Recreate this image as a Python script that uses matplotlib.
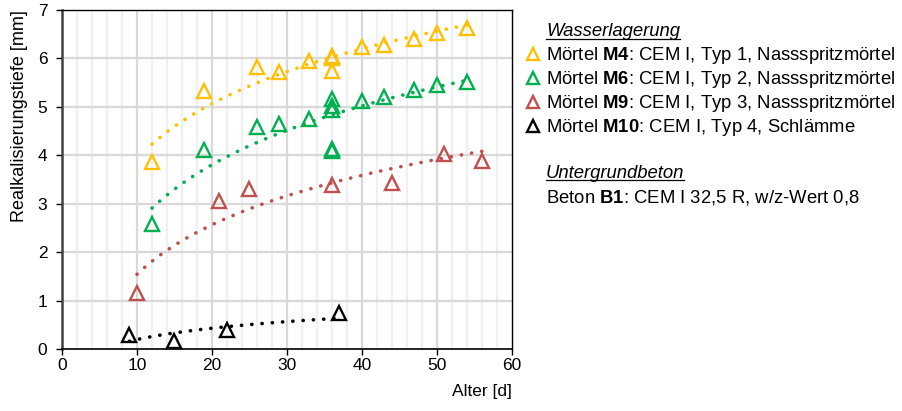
import numpy as np
import matplotlib
matplotlib.use("Agg")
import matplotlib.pyplot as plt
from matplotlib.lines import Line2D

plt.rcParams["font.family"] = ["Liberation Sans", "DejaVu Sans"]
plt.rcParams["mathtext.fontset"] = "custom"
plt.rcParams["mathtext.rm"] = "Liberation Sans"
plt.rcParams["mathtext.bf"] = "Liberation Sans:bold"

# Realkalisierungstiefe [mm] über Alter [d]
m4_age = [12, 19, 26, 29, 33, 36, 36, 36, 40, 43, 47, 50, 54]
m4_depth = [3.87, 5.32, 5.83, 5.72, 5.95, 6.06, 6.00, 5.75, 6.24, 6.28, 6.40, 6.53, 6.63]

m6_age = [12, 19, 26, 29, 33, 36, 36, 36, 36, 36, 40, 43, 47, 50, 54]
m6_depth = [2.58, 4.10, 4.59, 4.64, 4.75, 5.16, 5.02, 4.94, 4.13, 4.08, 5.12, 5.21, 5.35, 5.45, 5.52]

m9_age = [10, 21, 25, 36, 44, 51, 56]
m9_depth = [1.16, 3.06, 3.30, 3.39, 3.43, 4.03, 3.89]

m10_age = [9, 15, 22, 37]
m10_depth = [0.29, 0.17, 0.39, 0.74]

series = [
    ("M4", ": CEM I, Typ 1, Nassspritzmörtel", m4_age, m4_depth, "#FFC000"),
    ("M6", ": CEM I, Typ 2, Nassspritzmörtel", m6_age, m6_depth, "#00B050"),
    ("M9", ": CEM I, Typ 3, Nassspritzmörtel", m9_age, m9_depth, "#C0504D"),
    ("M10", ": CEM I, Typ 4, Schlämme", m10_age, m10_depth, "#000000"),
]

W, H = 903, 411
fig = plt.figure(figsize=(W / 100, H / 100), dpi=100)
ax = fig.add_axes([62 / W, (H - 349) / H, 450 / W, 339 / H])

# grid
for x in range(2, 60, 2):
    major = x % 10 == 0
    ax.axvline(x, color="#D9D9D9" if major else "#F0F0F0", lw=1.6, zorder=0)
for y in range(1, 7):
    ax.axhline(y, color="#D9D9D9", lw=1.6, zorder=0)

for name, text, age, depth, color in series:
    age = np.asarray(age, float)
    depth = np.asarray(depth, float)
    # logarithmic trend line
    a, b = np.polyfit(np.log(age), depth, 1)
    xs = np.linspace(age.min(), age.max(), 200)
    ax.plot(xs, a * np.log(xs) + b, color=color, lw=2.6,
            linestyle=(0, (0.05, 2.8)), dash_capstyle="round", zorder=2)
    ax.plot(age, depth, linestyle="none", marker="^", ms=10, mfc="none",
            mec=color, mew=1.7, zorder=3)

ax.set_xlim(0, 60)
ax.set_ylim(0, 7)
ax.set_xticks(range(0, 61, 10))
ax.set_yticks(range(0, 8))
ax.tick_params(axis="both", labelsize=12.5, direction="out", length=4.5,
               width=1, color="black")
ax.tick_params(axis="x", pad=2)
ax.tick_params(axis="y", pad=6)
for s in ["top", "right"]:
    ax.spines[s].set_linewidth(1.0)
    ax.spines[s].set_color("#000000")
ax.spines["left"].set_linewidth(1.8)
ax.spines["left"].set_color("#404040")
ax.spines["bottom"].set_linewidth(1.2)

ax.set_ylabel("Realkalisierungstiefe [mm]", fontsize=13, loc="top", labelpad=7)
ax.set_xlabel("Alter [d]", fontsize=12.5, loc="right", labelpad=8)

# legend block
fs = 13.3
x_txt = 546 / W
x_mk = 533 / W
def fy(py):
    return (H - py) / H

heads = []
heads.append(fig.text(x_txt, fy(32), "Wasserlagerung", fontsize=fs, style="italic",
                      va="center", ha="left"))
rows_y = [55, 79, 103, 127]
for (name, text, age, depth, color), py in zip(series, rows_y):
    fig.text(x_txt, fy(py), "Mörtel $\\mathbf{" + name + "}$" + text, fontsize=fs,
             va="center", ha="left")
    fig.add_artist(Line2D([x_mk], [fy(py) + 0.002], marker="^", ms=9, mfc="none",
                          mec=color, mew=1.7, linestyle="none",
                          transform=fig.transFigure))
heads.append(fig.text(x_txt, fy(173), "Untergrundbeton", fontsize=fs, style="italic",
                      va="center", ha="left"))
fig.text(x_txt, fy(197), "Beton $\\mathbf{B1}$: CEM I 32,5 R, w/z-Wert 0,8", fontsize=fs,
         va="center", ha="left")

fig.canvas.draw()
r = fig.canvas.get_renderer()
for h in heads:
    bb = h.get_window_extent(r)
    yb = bb.y0 + 1
    fig.add_artist(Line2D([bb.x0 / W, bb.x1 / W], [yb / H, yb / H], color="black",
                          lw=0.9, transform=fig.transFigure))

fig.savefig("out.png", dpi=100)
